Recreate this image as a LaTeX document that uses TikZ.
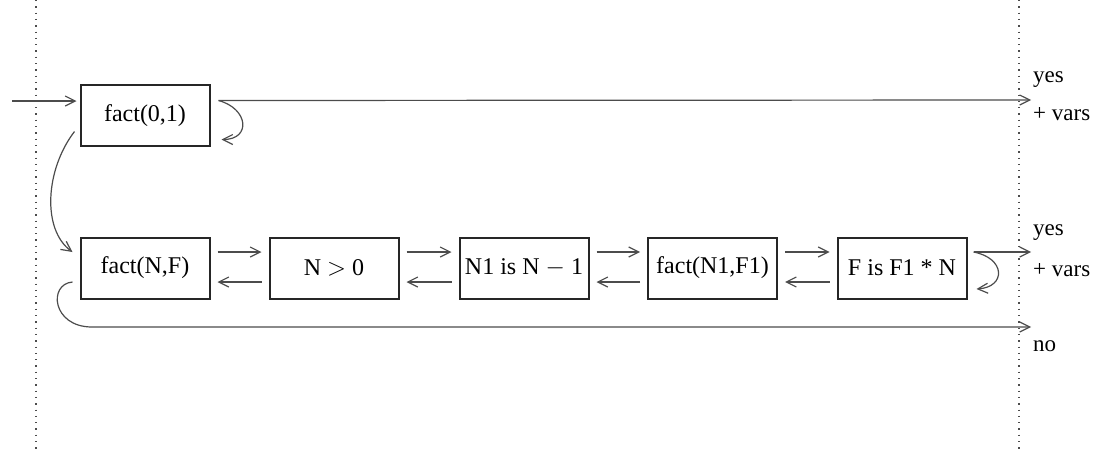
\documentclass[tikz,border=0pt]{standalone}
\usepackage{fontspec}
\setmainfont{Liberation Serif}
\usetikzlibrary{arrows.meta,calc}
\begin{document}
\begin{tikzpicture}[x=1pt,y=-1pt,
  box/.style={draw=black!85,line width=2pt,minimum width=129pt,minimum height=61pt,inner sep=0pt,font=\fontsize{24}{26}\selectfont},
  con/.style={draw=black!70,line width=1.2pt,-{Straight Barb[length=10pt,width=10pt]}},
  lbl/.style={anchor=west,inner sep=0pt,font=\fontsize{23}{25}\selectfont},
  guide/.style={draw=black!70,line width=1.3pt,dash pattern=on 1.3pt off 5pt}]
\useasboundingbox (0,0) rectangle (1099,450);
\draw[guide] (36,0) -- (36,450);
\draw[guide] (1019,0) -- (1019,450);
\node[box] (f01) at (145,115.5) {fact(0,1)};
\node[box] (fnf) at (145,268) {fact(N,F)};
\node[box] (ngt) at (334,268) {N $>$ 0};
\node[box] (n1) at (524,268) {N1 is N $-$ 1};
\node[box] (fn1) at (712.5,268) {fact(N1,F1)};
\node[box] (fis) at (902,268) {F is F1 * N};
\coordinate (in) at (12,101);
\coordinate (out1) at (1031,100);
\coordinate (out2) at (1031,252);
\coordinate (out3) at (1031,327);
\node[lbl] (y1) at (1033,80) {yes};
\node[lbl] (v1) at (1033,114) {+ vars};
\node[lbl] (y2) at (1033,233) {yes};
\node[lbl] (v2) at (1033,270) {+ vars};
\node[lbl] (no) at (1033,346) {no};
% entry
\draw[con] (in) -- ([xshift=-3pt]f01.west |- in);
% top exit and loop
\draw[con] ([xshift=8pt,yshift=15pt]f01.east) -- (out1);
\draw[con] ([xshift=8pt,yshift=15pt]f01.east) .. controls +(30,8) and +(30,0) .. ([xshift=11pt,yshift=-24pt]f01.east);
% curve from fact(0,1) to fact(N,F)
\draw[con] ([xshift=-5pt,yshift=-16pt]f01.west) .. controls (45,170) and (42,230) .. ([xshift=-7pt,yshift=16pt]fnf.west);
% forward/backward between boxes
\foreach \a/\b in {fnf/ngt,ngt/n1,n1/fn1,fn1/fis}{
  \draw[con] ([xshift=7pt,yshift=16pt]\a.east) -- ([xshift=-7pt,yshift=16pt]\b.west);
  \draw[con] ([xshift=-7pt,yshift=-14pt]\b.west) -- ([xshift=7pt,yshift=-14pt]\a.east);
}
% exit of last box and loop
\draw[con] ([xshift=6pt,yshift=16pt]fis.east) -- (out2);
\draw[con] ([xshift=6pt,yshift=16pt]fis.east) .. controls +(32,6) and +(30,-2) .. ([xshift=9pt,yshift=-21pt]fis.east);
% failure path
\draw[con] ([xshift=-7pt,yshift=-14pt]fnf.west) .. controls (48,284) and (52,327) .. (92,327) -- (out3);
\end{tikzpicture}
\end{document}
